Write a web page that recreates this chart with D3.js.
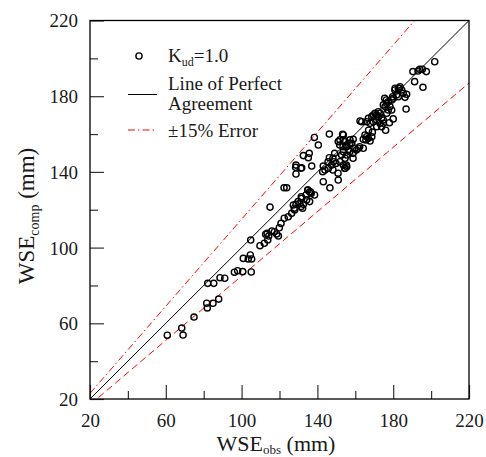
<!DOCTYPE html>
<html><head><meta charset="utf-8">
<script src="https://cdn.jsdelivr.net/npm/d3@7"></script>
<style>
body{margin:0;background:#fff;}
text{font-family:"Liberation Serif","Times New Roman",serif;fill:#1a1a1a;}
</style></head>
<body><svg id="c" width="486" height="457"></svg>
<script>
const majorTicks = [20, 60, 100, 140, 180, 220];
const minorTicks = [40, 80, 120, 160, 200];
const errorPct = 0.15;
const seriesLabel = "K";
const points = [
[60.8,53.7],[68.4,57.5],[69.1,53.8],[74.9,63.3],[81.6,70.6],[81.9,68.1],[84.9,70.6],[87.9,72.8],
[82.1,81.1],[85.3,81.1],[88.6,84.1],[91.1,83.8],[96.2,87],[97.9,87.8],[100.6,87.3],[105.1,87.1],
[100.9,94.3],[103.5,94],[104.6,96.1],[105.3,94],[104.8,104],
[109.7,101],[112,102.3],[113.8,104],[112.7,107],[113.5,107.5],[114.3,106.1],[116,108.8],[117.3,108.4],
[118.5,107.2],[119.4,106.1],[119.9,110.5],[120.8,112.8],[122.5,115.5],[124.6,116.3],[126.4,118.1],
[127.8,120.8],[128.7,122.9],[127.3,122.5],[131.3,121.6],[132.2,120.8],[132.6,122.9],[130.8,123.4],
[131.7,126],[134.3,125.2],[134,127.8],[134.9,130.4],[115,121.4],[122.4,131.6],[123.8,131.6],
[128.7,138.9],[128.5,142.4],[131.3,141.9],
[135,130.4],[135.9,129.5],[136.7,128.6],[138.5,127.8],[131.5,126.9],[129.8,124.3],[128,119.9],[135.9,124.3],
[136.5,129.2],[143.1,134.8],[146.6,131.6],[151,135.7],[128.7,143.6],[131.7,142.2],[137,143.1],
[143.1,143.1],[142.8,140.1],[144,141],[145.8,141.9],[147.5,143.6],[146.3,147.5],[148.4,145.4],
[149.8,144.5],[151.9,145.4],[153.7,143.6],[154.6,141.9],[155.5,142.7],[132.6,148.6],[135.7,149.8],
[135.2,147.5],[140.5,154.2],[138.4,158.2],[146.3,160],[151.9,156.9],[153.7,156.9],[153.3,159.9],[162.5,166.9],
[148.2,147.2],[149.1,149.8],[151.8,154.2],[153.5,153.3],[155.3,153.3],[157.1,155.1],[157.1,150.7],
[158.8,149.8],[160.6,151.6],[162.3,153.3],[145.6,145.4],[148.2,141],[150.9,139.3],[154.4,141.9],
[155.3,143.6],[158.8,147.2],
[153.7,159.5],[154.6,156],[151,156],[155.5,154.2],[157.2,156.9],[158.1,155.1],[158.9,157.2],
[156.3,151.6],[153.7,150.7],[152.8,148.9],[155.5,148.9],[159.8,152.5],[161.6,152.5],[164.2,152.5],
[154.6,147.2],
[163.4,166.5],[165.1,159.5],[166,158.6],[166.9,157.8],[167.8,156.3],[165.6,156.9],[164.2,157.2],[168.7,158.6],
[166.9,168.3],[168.7,169.2],[169.5,170.1],[170.4,171],[171.3,170.1],[172.1,169.2],[173,171],[173.9,168.3],
[174.8,167.4],[171.3,167.4],[169.5,166.5],[173,165.7],[174.8,165.7],[167.8,165.7],[166,166.5],[171.3,163.9],
[173.9,163.9],[172.1,171.8],
[174.8,175.4],[175.7,174.5],[176.6,176.2],[177.4,177.1],[178.3,174.5],[179.2,178],[180.1,178.9],
[181.8,180.6],[180.9,183.3],[182.7,184.2],[183.6,185],[184.5,183.3],[185.3,181.5],[182.7,179.7],
[179.2,172.7],[176.6,171],[177.4,172.7],
[186.8,173.2],[183.2,184.2],[181,184.2],[187.1,181],[186.2,179.4],[179.7,179.7],[175.5,178.9],[176.4,178],
[167,162],[169,161],[176,162],[178,166],[180,168],
[190.4,193],[193.1,193.3],[194,194.2],[195.4,194.2],[197.5,193],[201.9,198.2],[191.3,187.7],[195.7,184.7]
];
const wseObs = points.map(p => p[0]);
const wseComp = points.map(p => p[1]);

const svg = d3.select("#c");
const L = 90, R = 469, T = 20.5, B = 399;
const x = d3.scaleLinear().domain([20, 220]).range([L, R]);
const y = d3.scaleLinear().domain([20, 220]).range([B, T]);

svg.append("clipPath").attr("id","clip").append("rect")
  .attr("x", L).attr("y", T).attr("width", R - L).attr("height", B - T);

const lines = svg.append("g").attr("clip-path","url(#clip)");
const lineGen = d3.line().x(d => x(d[0])).y(d => y(d[1]));
lines.append("path").datum([[20,20],[220,220]]).attr("d", lineGen)
  .attr("stroke","#000").attr("stroke-width",1).attr("fill","none");
lines.append("path").datum([[20,20*(1+errorPct)],[220,220*(1+errorPct)]]).attr("d", lineGen)
  .attr("stroke","#ff0000").attr("stroke-width",1).attr("fill","none")
  .attr("stroke-dasharray","7,3,1.5,3");
lines.append("path").datum([[20,20*(1-errorPct)],[220,220*(1-errorPct)]]).attr("d", lineGen)
  .attr("stroke","#ff0000").attr("stroke-width",1).attr("fill","none")
  .attr("stroke-dasharray","7,4");

svg.append("g").selectAll("circle").data(wseObs).join("circle")
  .attr("cx", (d,i) => x(wseObs[i])).attr("cy", (d,i) => y(wseComp[i]))
  .attr("r", 3.1).attr("fill","none").attr("stroke","#000").attr("stroke-width",1.4);

const tickStyle = g => { g.select(".domain").remove(); g.selectAll("line").attr("stroke","#333").attr("stroke-width",1.2); };
svg.append("g").attr("transform",`translate(0,${B})`)
  .call(d3.axisBottom(x).tickValues(minorTicks).tickSize(-8).tickFormat(""))
  .call(tickStyle);
const xa = svg.append("g").attr("transform",`translate(0,${B})`)
  .call(d3.axisBottom(x).tickValues(majorTicks).tickSize(-14).tickFormat(d3.format("d")))
  .call(tickStyle);
xa.selectAll("text").attr("font-size","19px").attr("fill","#1a1a1a").attr("dy","0").attr("y",28);

svg.append("g").attr("transform",`translate(${L},0)`)
  .call(d3.axisLeft(y).tickValues(minorTicks).tickSize(-8).tickFormat(""))
  .call(tickStyle);
const ya = svg.append("g").attr("transform",`translate(${L},0)`)
  .call(d3.axisLeft(y).tickValues(majorTicks).tickSize(-14).tickFormat(d3.format("d")))
  .call(tickStyle);
ya.selectAll("text").attr("font-size","19px").attr("fill","#1a1a1a").attr("x",-12).attr("dy","0.34em");

svg.append("rect").attr("x",L).attr("y",T).attr("width",R-L).attr("height",B-T)
  .attr("fill","none").attr("stroke","#000").attr("stroke-width",1.3);

const xt = svg.append("text").attr("x", 276).attr("y", 451).attr("text-anchor","middle").attr("font-size","22px");
xt.append("tspan").text("WSE");
xt.append("tspan").text("obs").attr("font-size","13px").attr("dy",2.5);
xt.append("tspan").text(" (mm)").attr("dy",-2.5);

const yt = svg.append("text").attr("transform","translate(34,216) rotate(-90)").attr("text-anchor","middle").attr("font-size","23px");
yt.append("tspan").text("WSE");
yt.append("tspan").text("comp").attr("font-size","14px").attr("dy",5);
yt.append("tspan").text(" (mm)").attr("dy",-5);

const lg = svg.append("g");
lg.append("circle").attr("cx",139).attr("cy",56).attr("r",3.1).attr("fill","none").attr("stroke","#000").attr("stroke-width",1.4);
const k = lg.append("text").attr("x",168).attr("y",62).attr("font-size","19px");
k.append("tspan").text(seriesLabel);
k.append("tspan").text("ud").attr("font-size","12px").attr("dy",4);
k.append("tspan").text("=1.0").attr("dy",-4);
lg.append("line").attr("x1",128).attr("x2",157).attr("y1",94.5).attr("y2",94.5).attr("stroke","#000").attr("stroke-width",1);
lg.append("text").attr("x",168).attr("y",90).attr("font-size","19px").text("Line of Perfect");
lg.append("text").attr("x",168).attr("y",110).attr("font-size","19px").text("Agreement");
lg.append("line").attr("x1",128).attr("x2",157).attr("y1",130).attr("y2",130).attr("stroke","#ff0000").attr("stroke-width",1).attr("stroke-dasharray","7,3,1.5,3");
lg.append("text").attr("x",168).attr("y",137).attr("font-size","19px").text("±15% Error");
</script></body></html>
